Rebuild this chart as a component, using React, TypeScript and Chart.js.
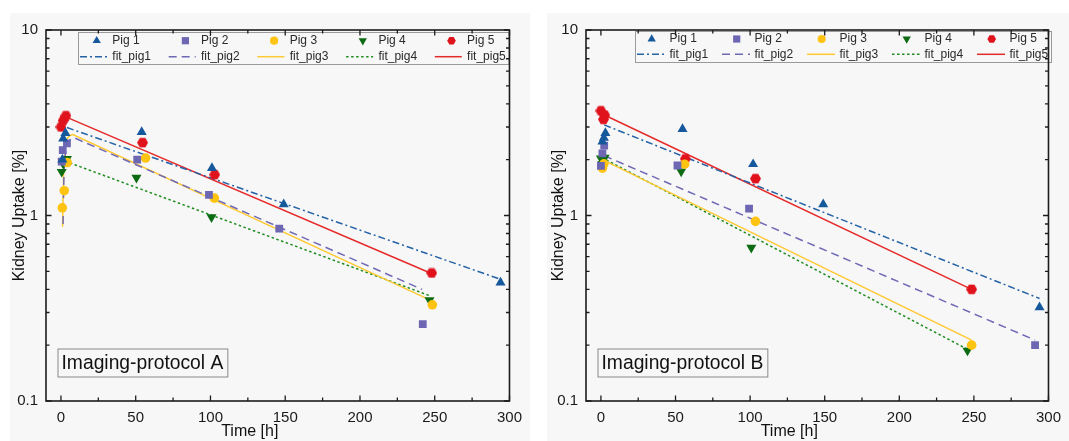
import React, { useEffect, useRef } from 'react';
import { Chart, registerables } from 'chart.js';

Chart.register(...registerables);

const FONT = '"Liberation Sans", Arial, Helvetica, sans-serif';
Chart.defaults.font.family = FONT;

// ---------- axes ----------
const X_TICKS = [0, 50, 100, 150, 200, 250, 300];
const X_MINOR = [25, 75, 125, 175, 225, 275];
const Y_TICKS = [0.1, 1, 10];
const Y_MINOR = [0.2, 0.3, 0.4, 0.5, 0.6, 0.7, 0.8, 0.9, 2, 3, 4, 5, 6, 7, 8, 9];
const X_TITLE = 'Time [h]';
const Y_TITLE = 'Kidney Uptake [%]';

const PIG_NAMES = ['Pig 1', 'Pig 2', 'Pig 3', 'Pig 4', 'Pig 5'];
const FIT_NAMES = ['fit_pig1', 'fit_pig2', 'fit_pig3', 'fit_pig4', 'fit_pig5'];

// ---------- Imaging-protocol A ----------
const A_LABEL = 'Imaging-protocol A';
const A_PIG1_T = [1, 1.5, 3, 54, 101, 149, 294];
const A_PIG1_V = [2.0, 2.6, 2.78, 2.82, 1.8, 1.15, 0.435];
const A_PIG2_T = [0.5, 1.2, 4, 51, 99, 146, 242];
const A_PIG2_V = [1.95, 2.25, 2.45, 2.0, 1.29, 0.85, 0.26];
const A_PIG3_T = [0.9, 2.2, 4.2, 56.6, 102.6, 248.4];
const A_PIG3_V = [1.1, 1.36, 1.93, 2.04, 1.24, 0.33];
const A_PIG4_T = [0.5, 1.5, 4, 50.5, 100.7, 246.5];
const A_PIG4_V = [1.72, 1.9, 2.02, 1.6, 0.98, 0.35];
const A_PIG5_T = [0, 1.5, 3.3, 54.6, 102.8, 248];
const A_PIG5_V = [3.0, 3.25, 3.45, 2.47, 1.66, 0.49];

const A_FIT1_T = [4, 295];
const A_FIT1_V = [2.98, 0.45];
const A_FIT2_T = [1.4, 1.7, 2.0, 2.5, 3.2, 4.2, 5.5, 7, 9, 241.5];
const A_FIT2_V = [0.9, 1.3, 1.65, 1.98, 2.22, 2.4, 2.52, 2.6, 2.62, 0.4];
const A_FIT3_T = [1.1, 1.4, 1.7, 2.1, 2.7, 3.5, 4.6, 6, 8, 247];
const A_FIT3_V = [0.87, 1.25, 1.65, 2.05, 2.35, 2.52, 2.63, 2.7, 2.73, 0.35];
const A_FIT4_T = [6, 246.5];
const A_FIT4_V = [1.92, 0.37];
const A_FIT5_T = [4, 247];
const A_FIT5_V = [3.38, 0.49];

// ---------- Imaging-protocol B ----------
const B_LABEL = 'Imaging-protocol B';
const B_PIG1_T = [1, 2, 3, 54.7, 102, 149, 294];
const B_PIG1_V = [2.5, 2.62, 2.78, 2.92, 1.89, 1.15, 0.32];
const B_PIG2_T = [0, 1, 2.2, 51.3, 99.3, 291];
const B_PIG2_V = [1.85, 2.16, 2.38, 1.86, 1.09, 0.2];
const B_PIG3_T = [1, 2, 56.1, 103.6, 248.5];
const B_PIG3_V = [1.8, 1.9, 1.89, 0.93, 0.2];
const B_PIG4_T = [0, 1, 2.5, 53.8, 100.8, 245.7];
const B_PIG4_V = [2.03, 1.9, 2.05, 1.73, 0.67, 0.187];
const B_PIG5_T = [0, 1.7, 2.5, 56.6, 103.6, 248.5];
const B_PIG5_V = [3.67, 3.3, 3.48, 2.02, 1.58, 0.4];

const B_FIT1_T = [2.2, 294];
const B_FIT1_V = [3.08, 0.357];
const B_FIT2_T = [2.2, 291];
const B_FIT2_V = [2.1, 0.213];
const B_FIT3_T = [0, 248.5];
const B_FIT3_V = [2.02, 0.213];
const B_FIT4_T = [0.7, 245.7];
const B_FIT4_V = [2.05, 0.19];
const B_FIT5_T = [3, 248.5];
const B_FIT5_V = [3.46, 0.4];

// ---------- styles ----------
const BG = '#f7f7f7';
const INK = '#1c1c1c';
const PIG_COLORS = ['#16589c', '#6c66b3', '#ffc312', '#0d6b14', '#e0131d'];
const FIT_COLORS = ['#2563a6', '#6f69b5', '#ffc933', '#1f8c1f', '#e52a2a'];
const FIT_DASH: number[][] = [[7, 3, 2, 3], [8, 5], [], [2.5, 2.5], []];
const MARKERS = ['triangle', 'rect', 'circle', 'triangleDown', 'hexagon'];

const pts = (t: number[], v: number[]) => t.map((x, i) => ({ x, y: v[i] }));

function hexPath(ctx: CanvasRenderingContext2D, cx: number, cy: number, r: number) {
  ctx.beginPath();
  for (let i = 0; i < 6; i++) {
    const a = (Math.PI / 3) * i;
    const x = cx + r * Math.cos(a);
    const y = cy + r * Math.sin(a);
    if (i === 0) ctx.moveTo(x, y);
    else ctx.lineTo(x, y);
  }
  ctx.closePath();
}

function hexCanvas(color: string, d: number) {
  const c = document.createElement('canvas');
  c.width = d;
  c.height = d;
  const ctx = c.getContext('2d')!;
  ctx.fillStyle = color;
  hexPath(ctx, d / 2, d / 2, d / 2);
  ctx.fill();
  return c;
}

function drawMarker(ctx: CanvasRenderingContext2D, kind: string, x: number, y: number, r: number, color: string) {
  ctx.fillStyle = color;
  ctx.beginPath();
  if (kind === 'triangle') {
    ctx.moveTo(x, y - r);
    ctx.lineTo(x + r * 0.866, y + r / 2);
    ctx.lineTo(x - r * 0.866, y + r / 2);
    ctx.closePath();
  } else if (kind === 'triangleDown') {
    ctx.moveTo(x, y + r);
    ctx.lineTo(x + r * 0.866, y - r / 2);
    ctx.lineTo(x - r * 0.866, y - r / 2);
    ctx.closePath();
  } else if (kind === 'rect') {
    const s = r * 0.75;
    ctx.rect(x - s, y - s, 2 * s, 2 * s);
  } else if (kind === 'circle') {
    ctx.arc(x, y, r * 0.85, 0, Math.PI * 2);
  } else {
    hexPath(ctx, x, y, r * 0.9);
  }
  ctx.fill();
}

type LegendGeom = {
  box: [number, number, number, number];
  x0: number;
  dx: number;
  mk: number;
  tx: number;
  lw: number;
  r1: number;
  r2: number;
};

type PanelCfg = {
  key: string;
  label: string;
  pigs: { t: number[]; v: number[] }[];
  fits: { t: number[]; v: number[] }[];
  width: number;
  height: number;
  areaLeft: number;
  padRight: number;
  yTitleX: number;
  legend: LegendGeom;
};

const PANEL_A: PanelCfg = {
  key: 'A',
  label: A_LABEL,
  pigs: [
    { t: A_PIG1_T, v: A_PIG1_V },
    { t: A_PIG2_T, v: A_PIG2_V },
    { t: A_PIG3_T, v: A_PIG3_V },
    { t: A_PIG4_T, v: A_PIG4_V },
    { t: A_PIG5_T, v: A_PIG5_V },
  ],
  fits: [
    { t: A_FIT1_T, v: A_FIT1_V },
    { t: A_FIT2_T, v: A_FIT2_V },
    { t: A_FIT3_T, v: A_FIT3_V },
    { t: A_FIT4_T, v: A_FIT4_V },
    { t: A_FIT5_T, v: A_FIT5_V },
  ],
  width: 520,
  height: 428,
  areaLeft: 36,
  padRight: 14,
  yTitleX: 10,
  legend: { box: [68.5, 19.5, 499, 51.5], x0: 70, dx: 88.7, mk: 16.7, tx: 32.3, lw: 27, r1: 27.7, r2: 43.7 },
};

const PANEL_B: PanelCfg = {
  key: 'B',
  label: B_LABEL,
  pigs: [
    { t: B_PIG1_T, v: B_PIG1_V },
    { t: B_PIG2_T, v: B_PIG2_V },
    { t: B_PIG3_T, v: B_PIG3_V },
    { t: B_PIG4_T, v: B_PIG4_V },
    { t: B_PIG5_T, v: B_PIG5_V },
  ],
  fits: [
    { t: B_FIT1_T, v: B_FIT1_V },
    { t: B_FIT2_T, v: B_FIT2_V },
    { t: B_FIT3_T, v: B_FIT3_V },
    { t: B_FIT4_T, v: B_FIT4_V },
    { t: B_FIT5_T, v: B_FIT5_V },
  ],
  width: 522,
  height: 428,
  areaLeft: 39,
  padRight: 14,
  yTitleX: 12,
  legend: { box: [88.5, 18.5, 504.5, 49.5], x0: 90, dx: 85, mk: 14.7, tx: 32.5, lw: 28, r1: 26, r2: 41.3 },
};

function makeDecor(cfg: PanelCfg) {
  return {
    id: 'decor' + cfg.key,
    afterDatasetsDraw(chart: any) {
      const { ctx, chartArea: a, scales } = chart;
      const xs = scales.x;
      const ys = scales.y;
      ctx.save();

      // legend box
      const L = cfg.legend;
      ctx.fillStyle = BG;
      ctx.fillRect(L.box[0], L.box[1], L.box[2] - L.box[0], L.box[3] - L.box[1]);
      ctx.strokeStyle = '#9a9a9a';
      ctx.lineWidth = 1;
      ctx.strokeRect(L.box[0], L.box[1], L.box[2] - L.box[0], L.box[3] - L.box[1]);
      ctx.font = '12px ' + FONT;
      ctx.textBaseline = 'middle';
      ctx.textAlign = 'left';
      for (let i = 0; i < 5; i++) {
        const x = L.x0 + i * L.dx;
        drawMarker(ctx, MARKERS[i], x + L.mk, L.r1, 4.8, PIG_COLORS[i]);
        ctx.fillStyle = '#2a2a2a';
        ctx.fillText(PIG_NAMES[i], x + L.tx, L.r1);
        ctx.beginPath();
        ctx.setLineDash(FIT_DASH[i]);
        ctx.strokeStyle = FIT_COLORS[i];
        ctx.lineWidth = 1.5;
        ctx.moveTo(x, L.r2);
        ctx.lineTo(x + L.lw, L.r2);
        ctx.stroke();
        ctx.setLineDash([]);
        ctx.fillStyle = '#2a2a2a';
        ctx.fillText(FIT_NAMES[i], x + L.tx, L.r2);
      }

      // annotation box
      ctx.font = '19.3px ' + FONT;
      const tw = ctx.measureText(cfg.label).width;
      const bx = a.left + 11.5;
      const by = a.bottom - 52.5;
      const bw = tw + 8;
      const bh = 28;
      ctx.fillStyle = BG;
      ctx.fillRect(bx, by, bw, bh);
      ctx.strokeStyle = '#8a8a8a';
      ctx.lineWidth = 1;
      ctx.strokeRect(bx + 0.5, by + 0.5, bw, bh);
      ctx.fillStyle = '#111';
      ctx.textBaseline = 'middle';
      ctx.fillText(cfg.label, bx + 4, by + bh / 2 + 1);

      // frame
      ctx.strokeStyle = INK;
      ctx.lineWidth = 1.6;
      ctx.strokeRect(a.left, a.top, a.right - a.left, a.bottom - a.top);

      // ticks (inside, all four sides)
      ctx.lineWidth = 1.3;
      ctx.beginPath();
      const xt = (v: number, len: number) => {
        const p = xs.getPixelForValue(v);
        ctx.moveTo(p, a.bottom);
        ctx.lineTo(p, a.bottom - len);
        ctx.moveTo(p, a.top);
        ctx.lineTo(p, a.top + len);
      };
      const yt = (v: number, len: number) => {
        const p = ys.getPixelForValue(v);
        ctx.moveTo(a.left, p);
        ctx.lineTo(a.left + len, p);
        ctx.moveTo(a.right, p);
        ctx.lineTo(a.right - len, p);
      };
      X_TICKS.forEach((v) => xt(v, 5.5));
      X_MINOR.forEach((v) => xt(v, 3.5));
      Y_TICKS.forEach((v) => yt(v, 5.5));
      Y_MINOR.forEach((v) => yt(v, 3.5));
      ctx.stroke();

      // axis titles
      ctx.fillStyle = '#111';
      ctx.font = '16px ' + FONT;
      ctx.textAlign = 'center';
      ctx.textBaseline = 'middle';
      ctx.fillText(X_TITLE, (a.left + a.right) / 2 - 28, 419);
      ctx.save();
      ctx.translate(cfg.yTitleX, (a.top + a.bottom) / 2);
      ctx.rotate(-Math.PI / 2);
      ctx.fillText(Y_TITLE, 0, 0);
      ctx.restore();

      ctx.restore();
    },
  };
}

function Panel({ cfg }: { cfg: PanelCfg }) {
  const ref = useRef<HTMLCanvasElement | null>(null);
  useEffect(() => {
    if (!ref.current) return;
    const scatterSets = cfg.pigs.map((s, i) => {
      const kind = MARKERS[i];
      const base: any = {
        label: PIG_NAMES[i],
        data: pts(s.t, s.v),
        backgroundColor: PIG_COLORS[i],
        borderColor: PIG_COLORS[i],
        borderWidth: 0,
        showLine: false,
        order: 1,
      };
      if (kind === 'triangle') {
        base.pointStyle = 'triangle';
        base.pointRadius = 5.8;
      } else if (kind === 'triangleDown') {
        base.pointStyle = 'triangle';
        base.pointRotation = 180;
        base.pointRadius = 5.8;
      } else if (kind === 'rect') {
        base.pointStyle = 'rect';
        base.pointRadius = 5.5;
      } else if (kind === 'circle') {
        base.pointStyle = 'circle';
        base.pointRadius = 4.8;
      } else {
        base.pointStyle = hexCanvas(PIG_COLORS[i], 11);
        base.pointRadius = 5.5;
      }
      return base;
    });
    const fitSets = cfg.fits.map((s, i) => ({
      label: FIT_NAMES[i],
      data: pts(s.t, s.v),
      showLine: true,
      pointRadius: 0,
      borderColor: FIT_COLORS[i],
      borderWidth: 1.5,
      borderDash: FIT_DASH[i],
      tension: 0,
      fill: false,
      order: 2,
    }));

    const chart = new Chart(ref.current, {
      type: 'scatter',
      data: { datasets: [...scatterSets, ...fitSets] as any },
      options: {
        responsive: false,
        animation: false,
        layout: { padding: { top: 10, right: cfg.padRight, left: 0, bottom: 0 } },
        plugins: { legend: { display: false }, tooltip: { enabled: false } },
        scales: {
          x: {
            type: 'linear',
            min: -10,
            max: 300,
            grid: { display: false, drawTicks: false },
            border: { display: false },
            afterBuildTicks: (s: any) => {
              s.ticks = X_TICKS.map((v) => ({ value: v }));
            },
            afterFit: (s: any) => {
              s.height = 40;
            },
            ticks: {
              color: '#1a1a1a',
              font: { size: 15, family: FONT },
              padding: 8,
              maxRotation: 0,
              autoSkip: false,
              callback: (v: any) => String(v),
            },
          },
          y: {
            type: 'logarithmic',
            min: 0.1,
            max: 10,
            grid: { display: false, drawTicks: false },
            border: { display: false },
            afterBuildTicks: (s: any) => {
              s.ticks = Y_TICKS.map((v) => ({ value: v }));
            },
            afterFit: (s: any) => {
              s.width = cfg.areaLeft;
            },
            ticks: {
              color: '#1a1a1a',
              font: { size: 15, family: FONT },
              padding: 8,
              autoSkip: false,
              callback: (v: any) => String(v),
            },
          },
        },
      } as any,
      plugins: [makeDecor(cfg) as any],
    });
    return () => chart.destroy();
  }, [cfg]);
  return <canvas ref={ref} width={cfg.width} height={cfg.height} style={{ display: 'block' }} />;
}

export default function App() {
  return (
    <div style={{ position: 'absolute', left: 0, top: 0, width: 1069, height: 441, background: '#ffffff', overflow: 'hidden' }}>
      <div style={{ position: 'absolute', left: 10, top: 13, width: 520, height: 428, background: BG }}>
        <Panel cfg={PANEL_A} />
      </div>
      <div style={{ position: 'absolute', left: 547, top: 13, width: 522, height: 428, background: BG }}>
        <Panel cfg={PANEL_B} />
      </div>
    </div>
  );
}
